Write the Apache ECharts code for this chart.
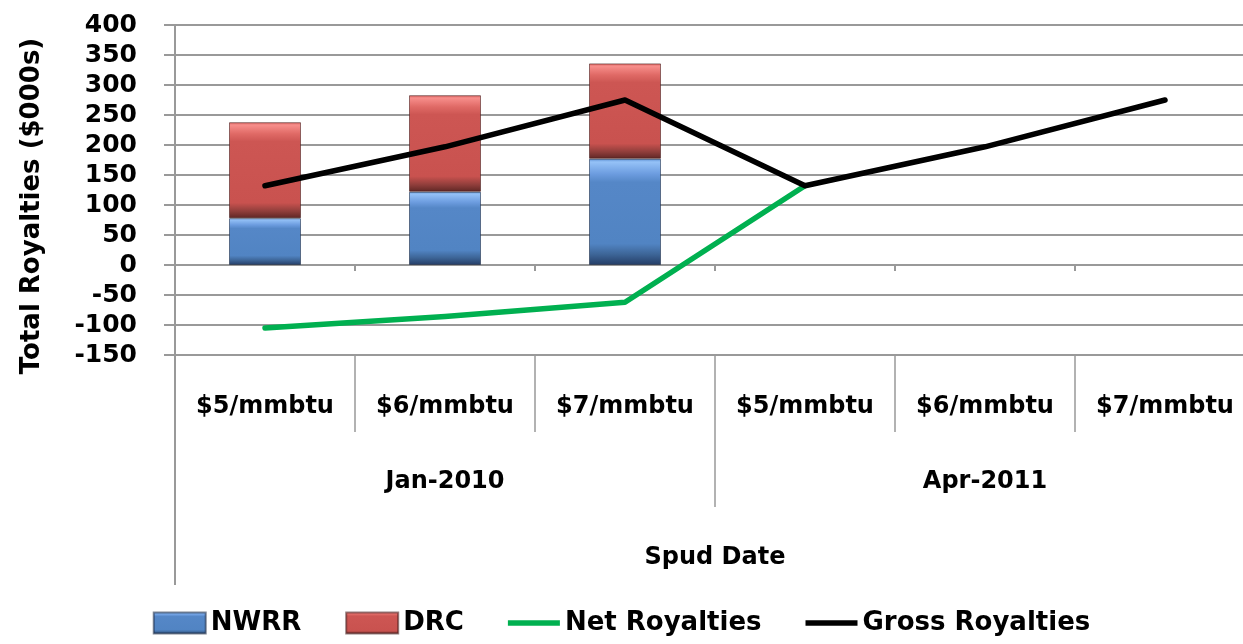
<!DOCTYPE html>
<html>
<head>
<meta charset="utf-8">
<script src="https://cdn.jsdelivr.net/npm/echarts@6/dist/echarts.min.js"></script>
<style>
html,body{margin:0;padding:0;background:#fff;}
#chart{width:1243px;height:644px;}
</style>
</head>
<body>
<div id="chart"></div>
<script>
const categories = ['$5/mmbtu', '$6/mmbtu', '$7/mmbtu', '$5/mmbtu', '$6/mmbtu', '$7/mmbtu'];
const groups = ['Jan-2010', 'Apr-2011'];
const axisTitle = ['Spud Date'];
const nwrr = [78, 122, 177, null, null, null];
const drc = [160, 161, 159, null, null, null];
const netRoyalties = [-105, -86, -62, 132, null, null];
const grossRoyalties = [132, 197, 275, 132, 197, 275];
const yMin = -150, yMax = 400, yStep = 50;

const FONT = 'DejaVu Sans';
const GRID = '#999999';
const chart = echarts.init(document.getElementById('chart'));

const blue = new echarts.graphic.LinearGradient(0, 0, 0, 1, [
  {offset: 0, color: '#5d90d3'}, {offset: 0.03, color: '#95c2f7'},
  {offset: 0.14, color: '#6d9de0'}, {offset: 0.22, color: '#5587c7'},
  {offset: 0.8, color: '#5184c3'}, {offset: 0.9, color: '#3d6597'},
  {offset: 1, color: '#243d66'}
]);
const red = new echarts.graphic.LinearGradient(0, 0, 0, 1, [
  {offset: 0, color: '#d9625f'}, {offset: 0.03, color: '#f78e8b'},
  {offset: 0.12, color: '#e06a66'}, {offset: 0.2, color: '#cd5653'},
  {offset: 0.84, color: '#c9524f'}, {offset: 0.93, color: '#8e3d3a'},
  {offset: 1, color: '#5e2624'}
]);

const txt = {fontFamily: FONT, fontWeight: 'bold', color: '#000', fontSize: 24};
const lineIcon = 'path://M0,0L56,0L56,6L0,6Z';

chart.setOption({
  animation: false,
  backgroundColor: '#fff',
  grid: {left: 175, top: 25, width: 1080, height: 330, containLabel: false, outerBoundsMode: 'none'},
  legend: {
    bottom: 3, left: 'center', itemWidth: 52, itemHeight: 21, itemGap: 44,
    symbolKeepAspect: true,
    textStyle: Object.assign({}, txt, {fontSize: 26}),
    data: [
      {name: 'NWRR', icon: 'rect'},
      {name: 'DRC', icon: 'rect'},
      {name: 'Net Royalties', icon: lineIcon},
      {name: 'Gross Royalties', icon: lineIcon}
    ]
  },
  xAxis: [
    {
      type: 'category', data: categories, gridIndex: 0, position: 'bottom',
      axisLine: {onZero: true, lineStyle: {color: GRID, width: 2}},
      axisTick: {show: true, length: 6, lineStyle: {color: GRID, width: 2}},
      axisLabel: {show: false}
    },
    {
      type: 'category', data: categories, gridIndex: 0, position: 'bottom',
      axisLine: {onZero: false, show: true, lineStyle: {color: GRID, width: 2}},
      axisTick: {show: true, length: 77, interval: 0, lineStyle: {color: GRID, width: 1.5}},
      axisLabel: Object.assign({}, txt, {margin: 40, interval: 0})
    },
    {
      type: 'category', data: groups, gridIndex: 0, position: 'bottom',
      axisLine: {onZero: false, show: false},
      axisTick: {show: true, length: 152, interval: 0, lineStyle: {color: GRID, width: 1.5}},
      axisLabel: Object.assign({}, txt, {margin: 115, interval: 0})
    },
    {
      type: 'category', data: axisTitle, gridIndex: 0, position: 'bottom',
      axisLine: {onZero: false, show: false},
      axisTick: {show: true, length: 230, interval: 0, lineStyle: {color: GRID, width: 2}},
      axisLabel: Object.assign({}, txt, {margin: 191, interval: 0})
    }
  ],
  yAxis: {
    type: 'value', min: yMin, max: yMax, interval: yStep,
    name: 'Total Royalties ($000s)', nameLocation: 'middle', nameGap: 130, nameRotate: 90,
    nameTextStyle: Object.assign({}, txt, {fontSize: 26, padding: [0, 32, 0, 0]}),
    axisLine: {show: true, lineStyle: {color: GRID, width: 2}},
    axisTick: {show: true, length: 11, lineStyle: {color: GRID, width: 2}},
    axisLabel: Object.assign({}, txt, {fontSize: 25, margin: 38}),
    splitLine: {show: true, lineStyle: {color: GRID, width: 2}}
  },
  series: [
    {
      name: 'NWRR', type: 'bar', stack: 'r', data: nwrr, barWidth: 72,
      itemStyle: {color: blue, borderColor: 'rgba(20,35,60,0.55)', borderWidth: 1}
    },
    {
      name: 'DRC', type: 'bar', stack: 'r', data: drc, barWidth: 72,
      itemStyle: {color: red, borderColor: 'rgba(60,20,20,0.55)', borderWidth: 1}
    },
    {
      name: 'Net Royalties', type: 'line', data: netRoyalties, symbol: 'none',
      lineStyle: {color: '#00b050', width: 5.5, cap: 'round', join: 'round'},
      itemStyle: {color: '#00b050'}
    },
    {
      name: 'Gross Royalties', type: 'line', data: grossRoyalties, symbol: 'none',
      lineStyle: {color: '#000000', width: 5.5, cap: 'round', join: 'round'},
      itemStyle: {color: '#000000'}
    }
  ]
});
</script>
</body>
</html>
